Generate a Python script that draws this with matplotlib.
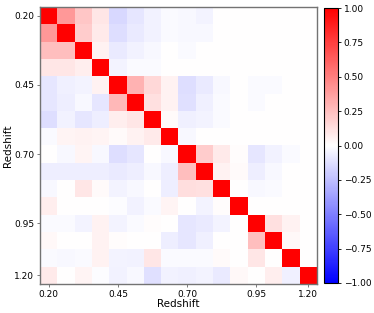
import numpy as np
import matplotlib
matplotlib.use("Agg")
import matplotlib.pyplot as plt

tick_labels = ["0.20", "0.45", "0.70", "0.95", "1.20"]
tick_index = [0, 4, 8, 12, 15]

row00 = [1.00, 0.40, 0.22, 0.10, -0.15, -0.10, -0.05, -0.02, -0.03, -0.04, 0, 0, 0, 0, 0, 0]
row01 = [0.40, 1.00, 0.20, 0.08, -0.13, -0.08, -0.05, -0.02, -0.03, -0.03, 0, 0, 0, 0, 0, 0]
row02 = [0.25, 0.25, 1.00, 0.05, -0.08, -0.05, -0.03, 0.00, -0.02, 0, 0, 0, 0, 0, 0, 0]
row03 = [0.10, 0.10, 0.07, 1.00, -0.04, -0.02, -0.02, 0.00, 0, 0, 0, 0, 0, 0, 0, 0]
row04 = [-0.10, -0.06, -0.04, 0.05, 1.00, 0.30, 0.15, 0.05, -0.13, -0.08, -0.03, 0, -0.02, -0.02, 0, 0]
row05 = [-0.10, -0.07, -0.03, -0.10, 0.28, 1.00, 0.12, 0.05, -0.12, -0.06, -0.02, 0, -0.02, 0, 0, 0]
row06 = [-0.13, -0.05, -0.10, -0.07, 0.07, 0.10, 1.00, 0.02, -0.06, -0.04, -0.02, 0, 0, 0, 0, 0]
row07 = [-0.02, 0.04, 0.05, 0.04, 0.02, 0.05, 0.08, 1.00, -0.03, 0, 0, 0, 0, 0, 0, 0]
row08 = [0.00, -0.03, 0.04, -0.03, -0.13, -0.10, 0.00, -0.03, 1.00, 0.20, 0.08, 0.01, -0.10, -0.05, -0.02, 0]
row09 = [-0.07, -0.07, -0.07, -0.07, -0.08, -0.07, -0.03, -0.07, 0.25, 1.00, 0.05, 0.02, -0.07, -0.03, 0, 0]
row10 = [-0.03, 0.00, 0.10, 0.02, -0.04, -0.03, 0.00, -0.07, 0.13, 0.12, 1.00, 0.00, -0.03, -0.02, 0, 0]
row11 = [0.07, 0.00, 0.00, 0.00, -0.01, -0.05, -0.02, 0.04, 0.00, -0.04, 0.01, 1.00, 0, 0, 0, 0]
row12 = [-0.02, -0.02, -0.04, 0.05, -0.04, -0.02, 0.01, 0.00, -0.10, -0.08, -0.04, 0, 1.00, 0.12, 0.05, 0]
row13 = [0.03, 0.00, 0.00, 0.05, 0.01, 0.00, 0.00, -0.07, -0.10, -0.06, 0.00, 0, 0.25, 1.00, 0.03, 0]
row14 = [-0.02, -0.03, -0.02, 0.05, -0.04, -0.05, 0.10, -0.02, -0.02, -0.02, 0.02, 0, 0.10, 0.00, 1.00, 0]
row15 = [0.08, 0.00, 0.04, -0.01, -0.05, -0.03, -0.12, -0.05, -0.06, -0.04, -0.08, 0.03, 0.00, 0.07, -0.06, 1.00]

corr = np.array([row00, row01, row02, row03, row04, row05, row06, row07,
                 row08, row09, row10, row11, row12, row13, row14, row15])

fig = plt.figure(figsize=(3.74, 3.13), dpi=100)
ax = fig.add_axes([40/374, 1 - 284/313, 277/374, 277/313])
im = ax.imshow(corr, cmap="bwr", vmin=-1, vmax=1, aspect="auto", interpolation="nearest")
ax.set_xticks(tick_index)
ax.set_xticklabels(tick_labels, fontsize=6.5)
ax.set_yticks(tick_index)
ax.set_yticklabels(tick_labels, fontsize=6.5)
ax.set_xlabel("Redshift", fontsize=7.5, labelpad=0)
ax.set_ylabel("Redshift", fontsize=7.5, labelpad=1)
ax.tick_params(length=2.5, width=0.6, pad=1.5, color="0.4")
for s in ax.spines.values():
    s.set_color("0.45")
    s.set_linewidth(1.0)

cax = fig.add_axes([324/374, 1 - 283/313, 14/374, 275/313])
cb = fig.colorbar(im, cax=cax, ticks=[-1, -0.75, -0.5, -0.25, 0, 0.25, 0.5, 0.75, 1])
cb.ax.set_yticklabels(["\u22121.00", "\u22120.75", "\u22120.50", "\u22120.25", "0.00", "0.25", "0.50", "0.75", "1.00"], fontsize=6.5)
cb.ax.tick_params(length=2.5, width=0.6, pad=1.5)
cb.outline.set_linewidth(0.8)

fig.savefig("out.png", dpi=100)
